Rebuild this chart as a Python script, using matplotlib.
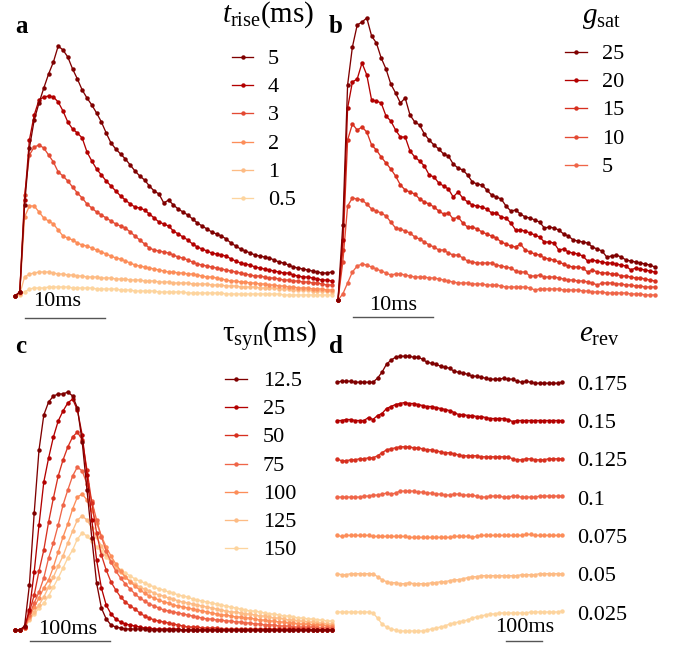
import numpy as np
import matplotlib
matplotlib.use('Agg')
import matplotlib.pyplot as plt

plt.rcParams['font.family'] = 'Liberation Serif'
plt.rcParams['mathtext.fontset'] = 'custom'
plt.rcParams['mathtext.rm'] = 'Liberation Serif'
plt.rcParams['mathtext.it'] = 'Liberation Serif:italic'
plt.rcParams['mathtext.bf'] = 'Liberation Serif:bold'

# ---------------- data (arbitrary amplitude units) ----------------

# panel a: rise time, sampled every 0.6 ms
t_a = np.arange(67) * 0.6
rise_labels = ['5', '4', '3', '2', '1', '0.5']
rise_5 = [0.0, 0.4, 9.1, 14.8, 17.6, 19.3, 20.8, 22.2, 23.4, 25.0, 24.6, 23.9, 22.7, 21.7, 20.6, 19.8, 19.1,
          18.3, 17.4, 16.3, 15.3, 14.7, 14.2, 13.7, 13.1, 12.5, 12.0, 11.6, 11.0, 10.5, 10.2, 9.3, 9.6, 9.1,
          8.7, 8.4, 8.1, 7.7, 7.3, 7.0, 6.7, 6.4, 6.2, 6.0, 5.7, 5.3, 5.0, 4.7, 4.5, 4.3, 4.1, 4.0, 3.9, 3.8,
          3.6, 3.4, 3.3, 3.1, 2.9, 2.8, 2.7, 2.6, 2.5, 2.4, 2.3, 2.3, 2.4]
rise_4 = [0.0, 0.4, 9.6, 15.6, 18.1, 19.6, 19.9, 20.0, 19.9, 19.4, 18.5, 17.4, 16.7, 16.3, 15.8, 14.4, 13.5,
          12.7, 12.1, 11.5, 11.0, 10.5, 10.0, 9.6, 9.2, 8.9, 8.8, 8.6, 8.2, 7.8, 7.4, 7.2, 7.0, 6.5, 6.2, 5.9,
          5.6, 5.2, 4.9, 4.7, 4.5, 4.3, 4.2, 4.1, 4.0, 3.7, 3.5, 3.3, 3.2, 3.1, 2.9, 2.8, 2.7, 2.6, 2.5, 2.4,
          2.3, 2.3, 2.1, 2.0, 1.9, 1.9, 1.8, 1.7, 1.6, 1.6, 1.5]
rise_3 = [0.0, 0.4, 10.1, 14.1, 14.9, 15.1, 14.8, 14.1, 13.4, 12.4, 12.0, 11.5, 10.9, 10.3, 9.8, 9.2, 8.8,
          8.4, 8.1, 7.8, 7.5, 7.2, 7.0, 6.8, 6.4, 6.0, 5.6, 5.2, 4.8, 4.6, 4.5, 4.4, 4.3, 4.1, 3.9, 3.8, 3.6,
          3.4, 3.2, 3.1, 3.0, 2.9, 2.8, 2.7, 2.6, 2.5, 2.4, 2.3, 2.2, 2.1, 2.0, 2.0, 1.9, 1.8, 1.8, 1.7, 1.6,
          1.6, 1.5, 1.5, 1.4, 1.4, 1.3, 1.3, 1.2, 1.1, 1.1]
rise_2 = [0.0, 0.3, 7.9, 9.0, 9.0, 8.4, 7.8, 7.5, 7.2, 6.6, 6.0, 5.8, 5.6, 5.3, 5.1, 5.0, 4.8, 4.6, 4.4,
          4.2, 4.0, 3.8, 3.7, 3.5, 3.3, 3.1, 3.0, 2.9, 2.8, 2.7, 2.6, 2.5, 2.4, 2.4, 2.3, 2.3, 2.2, 2.2, 2.1,
          2.0, 1.9, 1.9, 1.8, 1.7, 1.6, 1.5, 1.5, 1.4, 1.4, 1.3, 1.3, 1.2, 1.2, 1.1, 1.1, 1.0, 1.0, 0.9, 0.9,
          0.8, 0.8, 0.8, 0.7, 0.7, 0.7, 0.6, 0.6]
rise_1 = [0.0, 0.2, 1.9, 2.2, 2.3, 2.4, 2.4, 2.4, 2.3, 2.2, 2.2, 2.1, 2.1, 2.0, 2.0, 1.9, 1.9, 1.9, 1.8,
          1.8, 1.8, 1.7, 1.7, 1.7, 1.6, 1.6, 1.6, 1.5, 1.5, 1.5, 1.4, 1.4, 1.4, 1.3, 1.3, 1.3, 1.3, 1.2, 1.2,
          1.2, 1.2, 1.1, 1.1, 1.1, 1.0, 1.0, 1.0, 0.9, 0.9, 0.9, 0.9, 0.8, 0.8, 0.8, 0.8, 0.7, 0.7, 0.7, 0.6,
          0.6, 0.6, 0.6, 0.5, 0.5, 0.5, 0.5, 0.4]
rise_05 = [0.0, 0.1, 0.4, 0.7, 0.8, 0.8, 0.8, 0.9, 0.9, 0.9, 0.9, 0.9, 0.8, 0.8, 0.8, 0.8, 0.8, 0.7, 0.7,
           0.7, 0.7, 0.7, 0.6, 0.6, 0.6, 0.5, 0.5, 0.5, 0.5, 0.5, 0.4, 0.4, 0.4, 0.4, 0.4, 0.4, 0.3, 0.3,
           0.3, 0.3, 0.3, 0.3, 0.3, 0.3, 0.2, 0.2, 0.2, 0.2, 0.2, 0.2, 0.2, 0.2, 0.2, 0.2, 0.2, 0.2, 0.1,
           0.1, 0.1, 0.1, 0.1, 0.1, 0.1, 0.1, 0.1, 0.1, 0.1]
rise_colors = ['#7f0000', '#b30000', '#e34a33', '#fc8d59', '#fdbb84', '#fdd49e']

# panel b: saturation conductance, sampled every 0.6 ms
t_b = np.arange(67) * 0.6
gsat_labels = ['25', '20', '15', '10', '5']
gsat_25 = [0.0, 7.5, 21.5, 25.3, 27.5, 27.8, 28.2, 26.4, 25.7, 24.2, 23.1, 21.6, 20.7, 19.7, 20.2, 18.5,
           17.8, 17.5, 16.6, 16.0, 15.5, 15.1, 14.6, 14.4, 13.6, 13.2, 13.0, 12.5, 11.8, 11.6, 11.5, 11.0,
           10.5, 10.3, 10.1, 9.4, 8.9, 9.0, 8.6, 8.3, 8.2, 8.0, 7.8, 7.2, 7.3, 7.2, 7.0, 6.6, 6.4, 6.0, 5.9,
           5.8, 5.7, 5.3, 5.1, 4.9, 4.3, 4.4, 4.5, 4.3, 4.0, 3.9, 3.8, 3.7, 3.6, 3.5, 3.3]
gsat_20 = [0.0, 6.0, 19.2, 21.8, 22.1, 23.7, 22.5, 20.0, 19.9, 19.7, 18.4, 17.9, 17.0, 16.3, 16.3, 14.9,
           14.3, 13.9, 13.4, 12.5, 12.3, 11.7, 11.4, 11.1, 10.3, 10.8, 10.2, 9.8, 9.5, 9.4, 9.3, 9.1, 8.7,
           8.7, 8.3, 8.2, 7.7, 7.0, 7.0, 6.9, 6.7, 6.5, 6.3, 5.8, 5.8, 5.7, 5.0, 5.1, 4.8, 4.7, 4.6, 4.4, 3.9,
           4.0, 3.9, 3.8, 3.7, 3.7, 3.6, 3.5, 3.4, 3.0, 3.2, 3.1, 3.0, 2.9, 2.8]
gsat_15 = [0.0, 5.0, 16.0, 17.6, 17.0, 17.3, 16.8, 15.5, 15.0, 14.3, 13.7, 13.1, 12.4, 11.5, 11.0, 10.8,
           10.6, 10.1, 9.8, 9.6, 9.3, 8.9, 8.6, 8.7, 8.1, 8.3, 7.7, 7.3, 7.3, 7.1, 6.8, 6.6, 6.4, 6.2, 5.8,
           5.6, 5.4, 5.3, 5.6, 5.0, 4.8, 4.6, 4.5, 4.2, 4.1, 4.0, 3.8, 3.6, 3.4, 3.3, 3.3, 3.2, 2.8, 3.0, 2.8,
           2.7, 2.7, 2.6, 2.6, 2.4, 2.4, 2.3, 2.2, 2.2, 2.1, 2.0, 1.9]
gsat_10 = [0.0, 3.8, 9.4, 10.2, 10.1, 10.0, 9.6, 9.1, 8.9, 8.7, 8.4, 7.8, 7.2, 7.1, 6.9, 6.7, 6.3, 6.1,
           5.8, 5.5, 5.3, 5.0, 5.0, 4.7, 4.5, 4.5, 4.2, 3.9, 3.8, 3.7, 3.7, 3.7, 3.7, 3.5, 3.4, 3.3, 3.2, 2.9,
           2.8, 2.8, 2.4, 2.4, 2.5, 2.3, 2.3, 2.3, 2.2, 2.1, 2.0, 2.0, 1.9, 1.9, 1.8, 1.7, 1.5, 1.7, 1.7, 1.7,
           1.6, 1.6, 1.5, 1.5, 1.4, 1.4, 1.3, 1.3, 1.3]
gsat_5 = [0.0, 0.6, 1.7, 2.8, 3.4, 3.6, 3.5, 3.3, 3.1, 2.9, 2.7, 2.5, 2.6, 2.6, 2.5, 2.4, 2.3, 2.3, 2.3,
          2.2, 2.2, 2.1, 2.0, 1.9, 1.8, 1.7, 1.7, 1.7, 1.6, 1.6, 1.6, 1.5, 1.5, 1.5, 1.4, 1.3, 1.3, 1.3, 1.3,
          1.3, 1.2, 1.0, 1.1, 1.1, 1.1, 1.1, 1.1, 1.0, 1.0, 1.0, 1.0, 0.9, 0.9, 0.8, 0.8, 0.8, 0.7, 0.7, 0.7,
          0.7, 0.7, 0.6, 0.6, 0.6, 0.5, 0.5, 0.5]
gsat_colors = ['#7f0000', '#b30000', '#d7301f', '#e34a33', '#ef6548']

# panel c: synaptic time constant, sampled every 6 ms
t_c = np.arange(67) * 6.0
tau_labels = ['12.5', '25', '50', '75', '100', '125', '150']
tau_125 = [0.0, 0.0, 0.4, 4.5, 11.7, 18.0, 21.5, 22.8, 23.4, 23.6, 23.6, 23.8, 23.4, 22.2, 18.8, 14.0,
           9.2, 4.7, 2.2, 1.1, 0.5, 0.3, 0.2, 0.1, 0.1, 0.1, 0.1, 0.1, 0.0, 0.0, 0.0, 0.0, 0.0, 0.0, 0.0,
           0.0, 0.0, 0.0, 0.0, 0.0, 0.0, 0.0, 0.0, 0.0, 0.0, 0.0, 0.0, 0.0, 0.0, 0.0, 0.0, 0.0, 0.0, 0.0,
           0.0, 0.0, 0.0, 0.0, 0.0, 0.0, 0.0, 0.0, 0.0, 0.0, 0.0, 0.0, 0.0]
tau_25 = [0.0, 0.0, 0.3, 2.0, 5.8, 10.5, 14.8, 17.2, 19.3, 20.9, 21.9, 22.7, 23.1, 22.0, 19.5, 15.5, 11.0,
          7.0, 4.2, 2.5, 1.6, 1.1, 0.8, 0.6, 0.5, 0.4, 0.3, 0.2, 0.2, 0.1, 0.1, 0.1, 0.1, 0.1, 0.1, 0.0,
          0.0, 0.0, 0.0, 0.0, 0.0, 0.0, 0.0, 0.0, 0.0, 0.0, 0.0, 0.0, 0.0, 0.0, 0.0, 0.0, 0.0, 0.0, 0.0,
          0.0, 0.0, 0.0, 0.0, 0.0, 0.0, 0.0, 0.0, 0.0, 0.0, 0.0, 0.0]
tau_50 = [0.0, 0.0, 0.3, 1.8, 3.5, 5.9, 8.0, 10.8, 13.2, 15.4, 17.0, 18.3, 19.3, 19.8, 19.0, 16.0, 12.7,
          9.7, 7.5, 6.0, 4.8, 4.0, 3.3, 2.8, 2.4, 2.1, 1.7, 1.4, 1.2, 1.0, 0.9, 0.8, 0.7, 0.6, 0.5, 0.4,
          0.3, 0.3, 0.3, 0.2, 0.2, 0.2, 0.2, 0.1, 0.1, 0.1, 0.1, 0.1, 0.1, 0.1, 0.1, 0.1, 0.1, 0.1, 0.1,
          0.1, 0.1, 0.1, 0.1, 0.1, 0.1, 0.1, 0.0, 0.0, 0.0, 0.0, 0.0]
tau_75 = [0.0, 0.0, 0.2, 1.5, 2.7, 3.8, 5.2, 7.2, 8.7, 10.5, 12.5, 14.0, 15.4, 16.3, 15.9, 14.6, 12.9,
          11.0, 9.3, 7.9, 6.8, 5.9, 5.2, 4.6, 4.1, 3.6, 3.2, 2.9, 2.6, 2.4, 2.2, 2.0, 1.9, 1.8, 1.7, 1.6,
          1.5, 1.4, 1.3, 1.2, 1.1, 1.1, 1.0, 1.0, 0.9, 0.9, 0.8, 0.8, 0.7, 0.7, 0.6, 0.6, 0.5, 0.5, 0.5,
          0.4, 0.4, 0.4, 0.3, 0.3, 0.3, 0.3, 0.3, 0.2, 0.2, 0.2, 0.2]
tau_100 = [0.0, 0.0, 0.2, 1.3, 2.3, 3.2, 4.2, 5.0, 6.3, 7.8, 9.3, 10.6, 12.1, 13.3, 13.6, 13.0, 12.0,
           10.7, 9.4, 8.3, 7.4, 6.6, 5.9, 5.3, 4.8, 4.4, 4.0, 3.7, 3.4, 3.2, 3.0, 2.8, 2.7, 2.5, 2.4, 2.3,
           2.2, 2.1, 2.0, 1.9, 1.8, 1.7, 1.6, 1.5, 1.5, 1.4, 1.3, 1.3, 1.2, 1.2, 1.1, 1.0, 1.0, 0.9, 0.9,
           0.8, 0.8, 0.7, 0.7, 0.6, 0.6, 0.6, 0.5, 0.5, 0.5, 0.4, 0.4]
tau_125b = [0.0, 0.0, 0.2, 1.1, 1.8, 2.5, 3.3, 4.3, 5.3, 6.4, 7.4, 8.7, 9.9, 11.0, 11.4, 11.0, 10.2, 9.3,
            8.4, 7.6, 6.9, 6.3, 5.8, 5.3, 4.9, 4.6, 4.3, 4.1, 3.9, 3.7, 3.5, 3.4, 3.2, 3.1, 2.9, 2.8, 2.7,
            2.6, 2.5, 2.4, 2.3, 2.2, 2.1, 2.0, 1.9, 1.8, 1.8, 1.7, 1.6, 1.6, 1.5, 1.4, 1.4, 1.3, 1.2, 1.2,
            1.1, 1.0, 1.0, 0.9, 0.9, 0.8, 0.8, 0.7, 0.7, 0.6, 0.6]
tau_150 = [0.0, 0.0, 0.2, 1.0, 1.6, 2.2, 2.7, 3.4, 4.3, 5.2, 6.2, 7.2, 8.0, 9.1, 9.7, 9.4, 8.9, 8.3, 7.9,
           7.3, 6.8, 6.4, 6.0, 5.7, 5.4, 5.1, 4.9, 4.7, 4.5, 4.3, 4.1, 4.0, 3.8, 3.7, 3.5, 3.4, 3.3, 3.1,
           3.0, 2.9, 2.8, 2.7, 2.6, 2.5, 2.4, 2.3, 2.2, 2.1, 2.0, 1.9, 1.9, 1.8, 1.7, 1.6, 1.6, 1.5, 1.4,
           1.4, 1.3, 1.2, 1.2, 1.1, 1.1, 1.0, 1.0, 0.9, 0.9]
seven_colors = ['#7f0000', '#b30000', '#d7301f', '#ef6548', '#fc8d59', '#fdbb84', '#fdd49e']

# panel d: reversal potential, sampled every 12.5 ms, deviation from each trace's baseline
t_d = np.arange(51) * 12.5
erev_labels = ['0.175', '0.15', '0.125', '0.1', '0.075', '0.05', '0.025']
erev_0175 = [0.0, 0.1, 0.1, 0.1, 0.0, 0.0, 0.0, 0.0, 0.0, 0.4, 1.0, 1.8, 2.2, 2.5, 2.6, 2.6, 2.6, 2.5,
             2.5, 2.3, 2.0, 1.9, 1.8, 1.6, 1.5, 1.4, 1.1, 1.0, 0.9, 0.8, 0.6, 0.6, 0.5, 0.4, 0.3, 0.3, 0.3,
             0.4, 0.3, 0.3, 0.1, 0.0, 0.1, 0.0, -0.1, -0.1, -0.1, -0.1, -0.1, -0.1, 0.0]
erev_015 = [0.0, 0.0, 0.1, 0.1, 0.0, 0.0, 0.0, 0.3, 0.1, 0.5, 0.7, 1.2, 1.4, 1.6, 1.7, 1.8, 1.7, 1.7, 1.6,
            1.5, 1.4, 1.4, 1.3, 1.2, 1.1, 1.0, 0.8, 0.6, 0.6, 0.5, 0.5, 0.4, 0.4, 0.3, 0.2, 0.2, 0.2, 0.2,
            0.1, -0.1, 0.0, 0.0, 0.0, 0.0, 0.0, 0.0, 0.0, 0.0, 0.0, 0.0, 0.0]
erev_0125 = [0.0, -0.2, -0.2, -0.1, -0.1, 0.0, 0.0, 0.1, 0.1, 0.3, 0.6, 0.9, 1.0, 1.1, 1.2, 1.2, 1.2, 1.1,
             1.1, 1.0, 0.9, 0.9, 0.8, 0.7, 0.6, 0.6, 0.5, 0.4, 0.3, 0.3, 0.3, 0.3, 0.2, 0.2, 0.2, 0.2, 0.2,
             0.2, 0.2, 0.0, -0.1, -0.1, 0.0, 0.0, -0.1, -0.1, -0.1, 0.0, 0.0, 0.0, 0.0]
erev_01 = [0.0, 0.0, 0.0, 0.0, 0.0, 0.0, 0.1, 0.1, 0.2, 0.2, 0.3, 0.4, 0.3, 0.4, 0.6, 0.6, 0.6, 0.6, 0.5,
           0.5, 0.4, 0.4, 0.3, 0.3, 0.2, 0.2, 0.3, 0.3, 0.2, 0.2, 0.2, 0.1, 0.0, 0.0, 0.1, 0.1, 0.1, 0.0,
           0.0, 0.1, 0.1, 0.0, 0.0, 0.0, 0.0, 0.1, 0.1, 0.1, 0.1, 0.1, 0.1]
erev_0075 = [0.0, -0.1, 0.0, 0.0, 0.0, 0.0, 0.0, 0.0, -0.1, -0.1, -0.1, -0.1, -0.1, -0.1, -0.1, -0.1,
             -0.2, -0.2, -0.2, -0.2, -0.2, -0.2, -0.2, -0.2, -0.2, -0.2, -0.1, -0.1, -0.1, -0.1, -0.2,
             -0.1, 0.0, 0.0, 0.0, 0.0, 0.0, 0.0, 0.0, 0.0, 0.0, 0.0, 0.1, 0.1, 0.0, 0.0, 0.0, 0.0, 0.0,
             0.0, 0.0]
erev_005 = [0.0, -0.1, -0.1, 0.0, 0.0, 0.0, 0.0, 0.0, 0.0, -0.3, -0.6, -0.8, -0.9, -0.9, -1.0, -1.0, -0.9,
            -1.0, -1.0, -1.0, -1.0, -0.9, -0.9, -0.8, -0.8, -0.7, -0.6, -0.6, -0.5, -0.4, -0.3, -0.3, -0.2,
            -0.2, -0.2, -0.2, -0.2, -0.2, -0.2, -0.2, -0.2, -0.1, -0.1, -0.1, -0.1, 0.0, 0.0, 0.0, 0.0,
            0.0, 0.0]
erev_0025 = [0.0, 0.0, 0.0, 0.0, 0.0, 0.0, 0.0, 0.0, -0.1, -0.6, -1.2, -1.5, -1.7, -1.8, -1.9, -1.9, -1.9,
             -1.9, -1.9, -1.9, -1.8, -1.7, -1.6, -1.5, -1.4, -1.2, -1.1, -1.0, -0.9, -0.8, -0.6, -0.5,
             -0.4, -0.3, -0.2, -0.2, -0.1, -0.1, -0.1, -0.1, -0.1, -0.1, -0.1, 0.0, 0.0, 0.0, 0.0, 0.0,
             0.0, 0.0, 0.1]
erev_spacing = 3.83

# ---------------- layout helpers (pixel geometry of the figure) ----------------
W, H = 678, 646
fig = plt.figure(figsize=(W / 100, H / 100), dpi=100)

LW = 0.95
MS = 3.2


def panel_axes(left, top, right, bottom, x0, sx, y0, sy):
    # x0/y0: pixel position of data zero, sx/sy: pixels per data unit
    ax = fig.add_axes([left / W, 1 - bottom / H, (right - left) / W, (bottom - top) / H])
    ax.set_xlim((left - x0) / sx, (right - x0) / sx)
    ax.set_ylim((y0 - bottom) / sy, (y0 - top) / sy)
    ax.axis('off')
    return ax


def draw_curves(ax, t, curves, colors, offsets=None):
    for i in reversed(range(len(curves))):
        y = np.asarray(curves[i], dtype=float)
        if offsets is not None:
            y = y + offsets[i]
        ax.plot(t, y, '-o', color=colors[i], lw=LW, ms=MS, mew=0)


def scale_bar(ax, x1, x2, y, text, tx, ty):
    ax.plot([x1, x2], [y, y], color='#555555', lw=1.0, clip_on=False)
    ax.text(tx, ty, text, fontsize=16, ha='center', va='center')


ax_a = panel_axes(0, 0, 339, 330, 15, 8.0, 296, 10.0)
ax_b = panel_axes(330, 0, 678, 330, 338, 8.0, 300, 10.0)
ax_c = panel_axes(0, 330, 339, 646, 15, 0.8, 630, 10.0)
ax_d = panel_axes(330, 330, 678, 646, 337, 0.36, 612, 10.0)

draw_curves(ax_a, t_a, [rise_5, rise_4, rise_3, rise_2, rise_1, rise_05], rise_colors)
draw_curves(ax_b, t_b, [gsat_25, gsat_20, gsat_15, gsat_10, gsat_5], gsat_colors)
draw_curves(ax_c, t_c, [tau_125, tau_25, tau_50, tau_75, tau_100, tau_125b, tau_150], seven_colors)
erev_curves = [erev_0175, erev_015, erev_0125, erev_01, erev_0075, erev_005, erev_0025]
offs = [(len(erev_curves) - 1 - i) * erev_spacing for i in range(len(erev_curves))]
draw_curves(ax_d, t_d, erev_curves, seven_colors, offs)
for lab, off in zip(erev_labels, offs):
    ax_d.text(667, off - 0.75, lab, fontsize=16, ha='left', va='baseline')

scale_bar(ax_a, 1.25, 11.25, -2.2, '10ms', 5.25, -0.6)
scale_bar(ax_b, 1.875, 11.875, -1.7, '10ms', 6.875, -0.5)
scale_bar(ax_c, 18.75, 118.75, -1.1, '100ms', 66.25, 0.1)
scale_bar(ax_d, 469.4, 569.4, -2.9, '100ms', 522, -1.5)

# overlay in pixel coordinates for legends, titles and panel letters
ov = fig.add_axes([0, 0, 1, 1])
ov.set_xlim(0, W)
ov.set_ylim(H, 0)
ov.axis('off')


def legend(x1, x2, xt, y0, labels, colors, dy=28.2):
    for i, (lab, c) in enumerate(zip(labels, colors)):
        y = y0 + i * dy
        ov.plot([x1, x2], [y, y], color=c, lw=LW)
        ov.plot([(x1 + x2) / 2], [y], 'o', color=c, ms=MS, mew=0)
        ov.text(xt, y + 7, lab, fontsize=16, ha='left', va='baseline')


legend(232, 253, 268, 57, rise_labels, rise_colors)
legend(565, 587, 602, 52, gsat_labels, gsat_colors)
legend(225, 247, 263, 379, tau_labels, seven_colors)

ov.text(222, 22, r'$t_{\mathrm{rise}}$(ms)', fontsize=21, ha='left', va='baseline')
ov.text(582, 23, r'$g_{\mathrm{sat}}$', fontsize=21, ha='left', va='baseline')
ov.text(222, 343, r'$\mathrm{\tau}_{\mathrm{syn}}$(ms)', fontsize=21, ha='left', va='baseline')
ov.text(579, 342, r'$e_{\mathrm{rev}}$', fontsize=21, ha='left', va='baseline')

for letter, (x, y) in zip('abcd', [(15, 33), (329, 33), (15, 353), (329, 353)]):
    ov.text(x, y, letter, fontsize=18, fontweight='bold', ha='left', va='baseline')

fig.savefig('out.png', dpi=100)
